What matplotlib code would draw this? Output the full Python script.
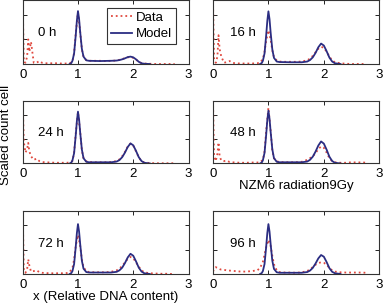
import matplotlib
matplotlib.use('Agg')
import matplotlib.pyplot as plt

plt.rcParams['font.family'] = ['Liberation Sans', 'DejaVu Sans']
plt.rcParams['font.size'] = 9.5

# time points shown in the six panels
times = ['0 h', '16 h', '24 h', '48 h', '72 h', '96 h']

# x grid of the measured histograms (relative DNA content)
data_x = [0, 0.02, 0.05, 0.08, 0.1, 0.12, 0.15, 0.2, 0.25, 0.3, 0.35, 0.4, 0.5, 0.6, 0.7, 0.8,
          0.85, 0.9, 0.93, 0.96, 1.0, 1.04, 1.07, 1.1, 1.15, 1.2, 1.3, 1.4, 1.5, 1.6, 1.7, 1.75,
          1.8, 1.85, 1.9, 1.95, 2.0, 2.05, 2.1, 2.15, 2.2, 2.3, 2.4, 2.5, 2.6, 2.7, 2.75]

data_0h = [2.6, 0.1, 0.05, 0.3, 1.0, 0.5, 0.9, 0.05, 0.05, 0.12, 0.05, 0.03, 0.03, 0.03, 0.02, 0.02,
           0.03, 0.12, 0.45, 1.25, 2.1, 1.3, 0.6, 0.3, 0.16, 0.13, 0.13, 0.13, 0.12, 0.13, 0.14, 0.17,
           0.2, 0.24, 0.27, 0.28, 0.25, 0.18, 0.09, 0.04, 0.02, 0.01, 0.0, 0.0, 0.0, 0.0, 0.0]
data_16h = [2.6, 0.2, 0.05, 0.3, 1.17, 0.6, 0.3, 0.05, 0.08, 0.12, 0.05, 0.03, 0.02, 0.02, 0.02, 0.03,
            0.06, 0.2, 0.5, 0.95, 1.37, 1.0, 0.55, 0.28, 0.14, 0.1, 0.09, 0.09, 0.09, 0.1, 0.15, 0.22,
            0.33, 0.48, 0.62, 0.7, 0.66, 0.5, 0.3, 0.15, 0.07, 0.03, 0.01, 0.0, 0.0, 0.0, 0.0]
data_24h = [2.6, 0.9, 0.45, 0.6, 0.85, 0.5, 0.3, 0.15, 0.2, 0.1, 0.06, 0.05, 0.04, 0.03, 0.03, 0.03,
            0.04, 0.1, 0.45, 1.25, 2.12, 1.3, 0.55, 0.22, 0.09, 0.06, 0.05, 0.05, 0.05, 0.06, 0.1, 0.17,
            0.3, 0.48, 0.7, 0.82, 0.74, 0.5, 0.25, 0.1, 0.04, 0.02, 0.01, 0.01, 0.01, 0.01, 0.01]
data_48h = [2.6, 0.3, 0.1, 0.4, 0.87, 0.3, 0.12, 0.1, 0.12, 0.06, 0.05, 0.04, 0.03, 0.03, 0.04, 0.04,
            0.05, 0.15, 0.5, 1.35, 2.3, 1.35, 0.55, 0.22, 0.09, 0.06, 0.05, 0.05, 0.05, 0.07, 0.15, 0.22,
            0.3, 0.42, 0.6, 0.7, 0.65, 0.45, 0.22, 0.1, 0.05, 0.03, 0.03, 0.05, 0.04, 0.05, 0.03]
data_72h = [2.6, 0.15, 0.05, 0.2, 0.6, 0.35, 0.1, 0.12, 0.15, 0.08, 0.05, 0.04, 0.03, 0.03, 0.03, 0.04,
            0.08, 0.25, 0.6, 1.15, 1.6, 1.15, 0.6, 0.28, 0.12, 0.08, 0.07, 0.07, 0.07, 0.09, 0.15, 0.22,
            0.33, 0.48, 0.62, 0.7, 0.65, 0.48, 0.3, 0.15, 0.07, 0.03, 0.02, 0.01, 0.01, 0.0, 0.0]
data_96h = [0.1, 0.2, 0.28, 0.25, 0.22, 0.2, 0.18, 0.17, 0.15, 0.14, 0.13, 0.12, 0.1, 0.1, 0.12, 0.15,
            0.25, 0.5, 0.8, 1.1, 1.4, 1.15, 0.75, 0.4, 0.15, 0.08, 0.06, 0.06, 0.05, 0.07, 0.12, 0.2,
            0.28, 0.38, 0.45, 0.48, 0.46, 0.38, 0.25, 0.15, 0.1, 0.07, 0.06, 0.06, 0.06, 0.06, 0.05]

# x grid of the model curves
model_x = [0.85, 0.88, 0.9, 0.93, 0.96, 0.98, 1.0, 1.02, 1.04, 1.07, 1.1, 1.15, 1.2, 1.4, 1.6, 1.7,
           1.75, 1.8, 1.85, 1.9, 1.95, 2.0, 2.05, 2.1, 2.15, 2.2, 2.3]

model_0h = [0.0, 0.04, 0.13, 0.43, 1.18, 1.76, 2.15, 1.83, 1.3, 0.62, 0.3, 0.15, 0.13, 0.12, 0.13, 0.14,
            0.16, 0.19, 0.23, 0.28, 0.3, 0.27, 0.19, 0.09, 0.03, 0.01, 0.0]
model_16h = [0.0, 0.04, 0.13, 0.43, 1.18, 1.75, 2.14, 1.82, 1.28, 0.6, 0.25, 0.1, 0.08, 0.07, 0.07, 0.1,
             0.16, 0.27, 0.45, 0.68, 0.83, 0.75, 0.52, 0.26, 0.1, 0.03, 0.0]
model_24h = [0.0, 0.04, 0.13, 0.43, 1.18, 1.75, 2.14, 1.82, 1.28, 0.58, 0.22, 0.07, 0.05, 0.05, 0.05, 0.08,
             0.14, 0.26, 0.45, 0.68, 0.83, 0.75, 0.52, 0.26, 0.1, 0.03, 0.0]
model_48h = [0.0, 0.04, 0.13, 0.44, 1.2, 1.79, 2.18, 1.85, 1.31, 0.59, 0.22, 0.07, 0.05, 0.05, 0.05, 0.08,
             0.15, 0.28, 0.49, 0.74, 0.91, 0.82, 0.57, 0.28, 0.1, 0.03, 0.0]
model_72h = [0.0, 0.04, 0.12, 0.41, 1.13, 1.68, 2.05, 1.74, 1.23, 0.55, 0.22, 0.08, 0.06, 0.06, 0.06, 0.09,
             0.15, 0.26, 0.45, 0.68, 0.83, 0.75, 0.52, 0.26, 0.1, 0.03, 0.0]
model_96h = [0.0, 0.04, 0.12, 0.41, 1.13, 1.68, 2.05, 1.74, 1.23, 0.55, 0.21, 0.07, 0.05, 0.05, 0.05, 0.08,
             0.14, 0.25, 0.43, 0.64, 0.78, 0.71, 0.49, 0.24, 0.09, 0.03, 0.0]

data_all = [data_0h, data_16h, data_24h, data_48h, data_72h, data_96h]
model_all = [model_0h, model_16h, model_24h, model_48h, model_72h, model_96h]

red = '#e0483e'
blue = '#2b2d82'

fig = plt.figure(figsize=(3.83, 3.08), dpi=100)

# axes rectangles (left, bottom, width, height) in figure fraction
cols = [(0.0593, 0.4329), (0.5561, 0.4342)]
rows = [(0.7922, 0.2078), (0.4692, 0.2045), (0.1104, 0.2055)]

axes = []
for i in range(6):
    r, c = divmod(i, 2)
    ax = fig.add_axes([cols[c][0], rows[r][0], cols[c][1], rows[r][1]])
    ax.plot(data_x, data_all[i], color=red, linestyle=':', linewidth=1.3, label='Data')
    ax.plot(model_x, model_all[i], color=blue, linewidth=1.3, label='Model')
    ax.set_xlim(0, 3)
    ax.set_ylim(0, 2.6)
    ax.set_xticks([0, 1, 2, 3])
    ax.set_yticks([0, 1, 2])
    ax.set_yticklabels([])
    ax.tick_params(direction='in', top=True, right=True, length=3, width=0.6,
                   labelsize=9.5, pad=3.5)
    for s in ax.spines.values():
        s.set_linewidth(0.8)
        s.set_color('#333333')
    tx = 0.28 if c == 0 else 0.31
    ax.text(tx, 1.25, times[i], fontsize=9.5, ha='left', va='center')
    axes.append(ax)

leg = axes[0].legend(loc='upper right', fontsize=9.5, handlelength=1.6, handletextpad=0.3,
                     borderpad=0.3, labelspacing=0.3, fancybox=False, framealpha=1,
                     edgecolor='#333333', bbox_to_anchor=(0.965, 0.98))
leg.get_frame().set_linewidth(0.8)

axes[3].set_xlabel('NZM6 radiation9Gy', fontsize=9.5, labelpad=0)
axes[4].set_xlabel('x (Relative DNA content)', fontsize=9.5, labelpad=0)
fig.text(0.016, 1 - 135 / 308, 'Scaled count cell', rotation=90, ha='center', va='center',
         fontsize=9.5)

fig.savefig('out.png', dpi=100)
